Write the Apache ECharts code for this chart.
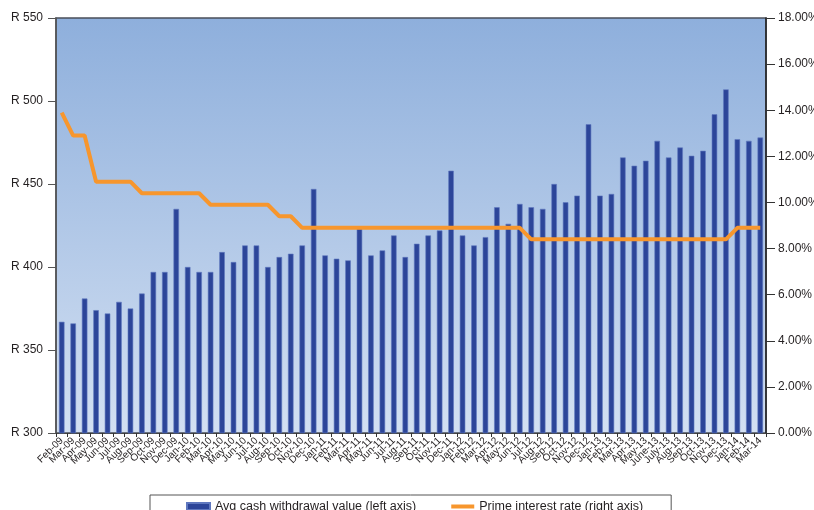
<!DOCTYPE html>
<html><head><meta charset="utf-8">
<script src="https://cdn.jsdelivr.net/npm/echarts@6/dist/echarts.min.js"></script>
<style>html,body{margin:0;padding:0;background:#fff}#c{width:814px;height:510px}</style>
</head><body><div id="c"></div>
<script>
const months = ["Feb-09","Mar-09","Apr-09","May-09","Jun-09","Jul-09","Aug-09","Sep-09","Oct-09","Nov-09","Dec-09",
"Jan-10","Feb-10","Mar-10","Apr-10","May-10","Jun-10","Jul-10","Aug-10","Sep-10","Oct-10","Nov-10","Dec-10",
"Jan-11","Feb-11","Mar-11","Apr-11","May-11","Jun-11","Jul-11","Aug-11","Sep-11","Oct-11","Nov-11","Dec-11",
"Jan-12","Feb-12","Mar-12","Apr-12","May-12","Jun-12","Jul-12","Aug-12","Sep-12","Oct-12","Nov-12","Dec-12",
"Jan-13","Feb-13","Mar-13","Apr-13","May-13","June-13","July-13","Aug-13","Sep-13","Oct-13","Nov-13","Dec-13",
"Jan-14","Feb-14","Mar-14"];
const avgWithdrawal = [367,366,381,374,372,379,375,384,397,397,435,
400,397,397,409,403,413,413,400,406,408,413,447,
407,405,404,423,407,410,419,406,414,419,422,458,
419,413,418,436,426,438,436,435,450,439,443,486,
443,444,466,461,464,476,466,472,467,470,492,507,
477,476,478];
const primeRate = [13.9,12.9,12.9,10.9,10.9,10.9,10.9,10.4,10.4,10.4,10.4,
10.4,10.4,9.9,9.9,9.9,9.9,9.9,9.9,9.4,9.4,8.9,8.9,
8.9,8.9,8.9,8.9,8.9,8.9,8.9,8.9,8.9,8.9,8.9,8.9,
8.9,8.9,8.9,8.9,8.9,8.9,8.4,8.4,8.4,8.4,8.4,8.4,
8.4,8.4,8.4,8.4,8.4,8.4,8.4,8.4,8.4,8.4,8.4,8.4,
8.9,8.9,8.9];
const leftTicks = {min:300,max:550,interval:50};
const rightTicks = {min:0,max:18,interval:2};

const FONT = 'Liberation Sans';
const chart = echarts.init(document.getElementById('c'));
chart.setOption({
  animation:false,
  textStyle:{fontFamily:FONT},
  grid:{left:56,right:48,top:18,bottom:77,containLabel:false,outerBoundsMode:'none',
    show:true,borderWidth:1.5,borderColor:'#4a4f5a',
    backgroundColor:new echarts.graphic.LinearGradient(0,0,0,1,[{offset:0,color:'#8eafdc'},{offset:1,color:'#d3e0f2'}])},
  legend:{
    left:150,top:495,padding:[5,28,8,36],itemGap:35,itemWidth:23,itemHeight:7,
    borderColor:'#555',borderWidth:1,
    textStyle:{fontFamily:FONT,fontSize:12.5,color:'#231f20'},
    data:[{name:'Avg cash withdrawal value (left axis)',icon:'rect'},
          {name:'Prime interest rate (right axis)',icon:'path://M0,0H46V8H0Z'}]
  },
  xAxis:{type:'category',data:months,boundaryGap:true,
    axisLine:{lineStyle:{color:'#444',width:1}},
    axisTick:{show:true,length:4,lineStyle:{color:'#333'}},
    axisLabel:{interval:0,rotate:45,fontSize:10,color:'#231f20',margin:6,fontFamily:FONT}
  },
  yAxis:[
    {type:'value',min:leftTicks.min,max:leftTicks.max,interval:leftTicks.interval,position:'left',
      splitLine:{show:false},
      axisLine:{show:true,lineStyle:{color:'#555',width:1.5}},
      axisTick:{show:true,length:8,lineStyle:{color:'#555'}},
      axisLabel:{formatter:v=>'R '+v,fontSize:12,color:'#231f20',margin:13,fontFamily:FONT}},
    {type:'value',min:rightTicks.min,max:rightTicks.max,interval:rightTicks.interval,position:'right',
      splitLine:{show:false},
      axisLine:{show:true,lineStyle:{color:'#222',width:1.5}},
      axisTick:{show:true,length:9,lineStyle:{color:'#333'}},
      axisLabel:{formatter:v=>v.toFixed(2)+'%',fontSize:12,color:'#231f20',margin:12,fontFamily:FONT}}
  ],
  series:[
    {name:'Avg cash withdrawal value (left axis)',type:'bar',yAxisIndex:0,data:avgWithdrawal,barWidth:5.5,
      itemStyle:{color:'#2c4599',borderColor:'#5f78bf',borderWidth:0.6}},
    {name:'Prime interest rate (right axis)',type:'line',yAxisIndex:1,data:primeRate,symbol:'none',
      lineStyle:{color:'#f7962d',width:4},itemStyle:{color:'#f7962d'}}
  ]
});
</script></body></html>
